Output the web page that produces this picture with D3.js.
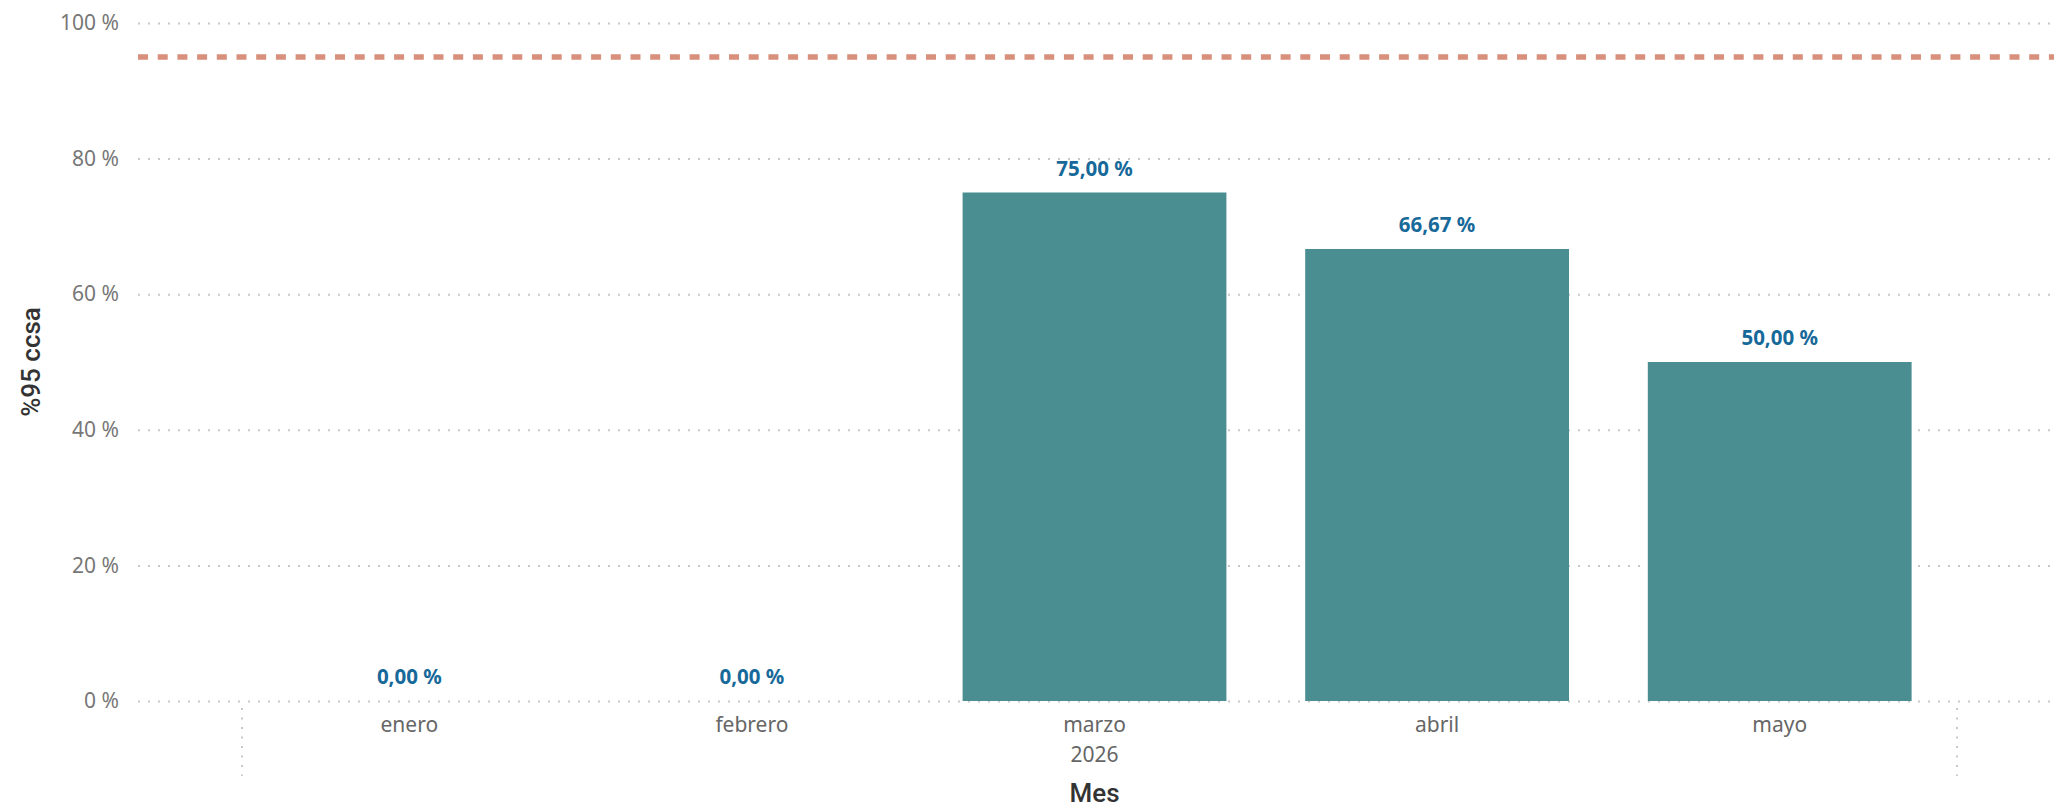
<!DOCTYPE html>
<html>
<head>
<meta charset="utf-8">
<script src="https://cdn.jsdelivr.net/npm/d3@7"></script>
<style>
  body { margin: 0; background: #fff; }
  svg { display: block; }
</style>
</head>
<body>
<div id="chart"></div>
<script>
const months = ['enero', 'febrero', 'marzo', 'abril', 'mayo']
const values = [0, 0, 75, 66.67, 50]
const yTicks = [0, 20, 40, 60, 80, 100]
const target = 95
const yearLabel = '2026'
const xTitle = 'Mes'
const yTitle = '%95 ccsa'

const margin = { top: 23, right: 0, bottom: 108, left: 138 }
const width = 2054 - margin.left - margin.right
const height = 809 - margin.top - margin.bottom

const svg = d3.select('#chart')
  .append('svg')
  .attr('width', width + margin.left + margin.right)
  .attr('height', height + margin.top + margin.bottom)
  .append('g')
  .attr('transform', `translate(${margin.left},${margin.top})`)

const data = months.map((m, i) => ({ month: m, value: values[i] }))

const x = d3.scaleBand()
  .domain(months)
  .range([100, 1813])
  .paddingInner(0.23)
  .paddingOuter(0.115)

const y = d3.scaleLinear()
  .domain([0, 100])
  .range([height, 0])

const fmt = v => d3.format('.2f')(v).replace('.', ',') + ' %'

// grid + y axis
const yAxis = svg.append('g')
  .call(d3.axisLeft(y).tickValues(yTicks).tickSize(-width).tickPadding(19).tickFormat(d => `${d} %`))
yAxis.select('.domain').remove()
yAxis.selectAll('.tick line')
  .attr('stroke', '#c8c8c8')
  .attr('stroke-width', 2)
  .attr('stroke-dasharray', '2,8')
yAxis.selectAll('text')
  .attr('font-family', '"Noto Sans", "Open Sans", sans-serif')
  .attr('font-size', '21px')
  .attr('fill', '#777')

// bars
svg.selectAll('.bar')
  .data(data)
  .enter()
  .append('rect')
  .attr('class', 'bar')
  .attr('x', d => x(d.month))
  .attr('y', d => y(d.value))
  .attr('width', x.bandwidth())
  .attr('height', d => height - y(d.value))
  .attr('fill', '#4a8e92')

// target line
svg.append('line')
  .attr('x1', 0)
  .attr('x2', width)
  .attr('y1', y(target))
  .attr('y2', y(target))
  .attr('stroke', '#d8907c')
  .attr('stroke-width', 5.5)
  .attr('stroke-dasharray', '10,9.7')

// data labels
svg.selectAll('.label')
  .data(data)
  .enter()
  .append('text')
  .attr('class', 'label')
  .attr('x', d => x(d.month) + x.bandwidth() / 2)
  .attr('y', d => y(d.value) - 17)
  .attr('text-anchor', 'middle')
  .attr('font-family', '"Noto Sans", "Open Sans", sans-serif')
  .attr('font-weight', 700)
  .attr('font-size', '20.5px')
  .attr('fill', '#17699a')
  .text(d => fmt(d.value))

// x axis
const xAxis = svg.append('g')
  .attr('transform', `translate(0,${height})`)
  .call(d3.axisBottom(x).tickSize(0).tickPadding(16))
xAxis.select('.domain').remove()
xAxis.selectAll('text')
  .attr('font-family', '"Noto Sans", "Open Sans", sans-serif')
  .attr('font-size', '21px')
  .attr('fill', '#666')

// year group separators
const sep = [x.range()[0] + 4, x.range()[1] + 6]
svg.selectAll('.sep')
  .data(sep)
  .enter()
  .append('line')
  .attr('class', 'sep')
  .attr('x1', d => d)
  .attr('x2', d => d)
  .attr('y1', height + 7)
  .attr('y2', height + 75)
  .attr('stroke', '#c8c8c8')
  .attr('stroke-width', 2)
  .attr('stroke-dasharray', '2,7.5')

svg.append('text')
  .attr('x', (x.range()[0] + x.range()[1]) / 2)
  .attr('y', height + 61)
  .attr('text-anchor', 'middle')
  .attr('font-family', '"Noto Sans", "Open Sans", sans-serif')
  .attr('font-size', '21px')
  .attr('fill', '#666')
  .text(yearLabel)

// titles
svg.append('text')
  .attr('x', (x.range()[0] + x.range()[1]) / 2)
  .attr('y', height + 101)
  .attr('text-anchor', 'middle')
  .attr('font-family', 'Roboto, sans-serif')
  .attr('font-weight', 500)
  .attr('font-size', '26px')
  .attr('fill', '#333')
  .text(xTitle)

svg.append('text')
  .attr('transform', `translate(${40 - margin.left},${height / 2}) rotate(-90)`)
  .attr('text-anchor', 'middle')
  .attr('font-family', 'Roboto, sans-serif')
  .attr('font-weight', 500)
  .attr('font-size', '26px')
  .attr('fill', '#333')
  .text(yTitle)
</script>
</body>
</html>
